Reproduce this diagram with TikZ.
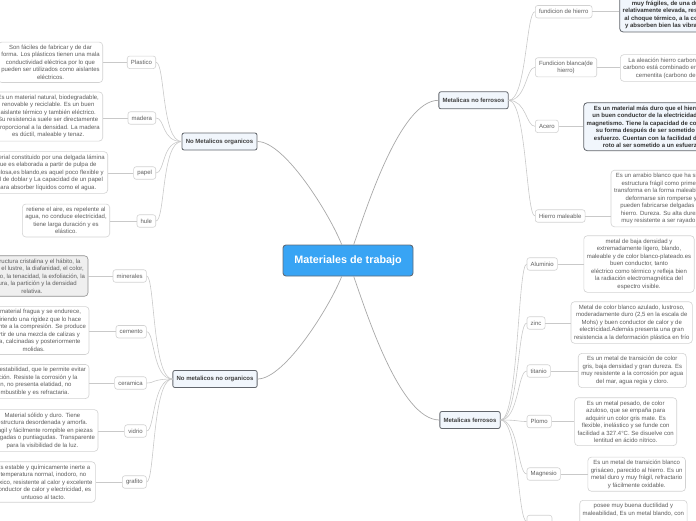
\documentclass[tikz,border=0pt]{standalone}
\usepackage{fontspec}
\setmainfont{Liberation Sans}
\usetikzlibrary{calc}
\definecolor{rootblue}{HTML}{38A4F4}
\definecolor{rootborder}{HTML}{5F6B78}
\definecolor{catfill}{HTML}{F1F6FC}
\definecolor{catborder}{HTML}{62666C}
\definecolor{nodeborder}{HTML}{D2D2D2}
\definecolor{txtgray}{HTML}{5E5E5E}
\definecolor{linegray}{HTML}{C9C9C9}
\definecolor{rootline}{HTML}{A8A8A8}
\definecolor{minfill}{HTML}{EFEFEF}
\definecolor{minborder}{HTML}{8E8E8E}
\tikzset{
 every node/.style={font=\fontsize{6}{7.5}\selectfont},
 rootnode/.style={draw=rootborder, line width=0.9pt, fill=rootblue, rounded corners=3pt, text=white, font=\fontsize{10.8}{13}\selectfont\bfseries, minimum width=130pt, minimum height=31pt},
 catnode/.style={draw=catborder, line width=0.8pt, fill=catfill, rounded corners=2pt, text=black!75, font=\fontsize{6}{7.5}\selectfont\bfseries, inner xsep=3.8pt, minimum height=17pt},
 subnode/.style={draw=nodeborder, line width=0.6pt, fill=white, rounded corners=2.5pt, text=txtgray, align=center, inner xsep=3.7pt, inner ysep=3pt, minimum height=12.5pt},
 leaf/.style={draw=nodeborder, line width=0.6pt, fill=white, rounded corners=3.5pt, text=txtgray, align=center, inner xsep=3pt, inner ysep=3pt},
 hileaf/.style={leaf, draw=catborder, line width=0.8pt, fill=catfill, text=black!80, font=\fontsize{6}{7.5}\selectfont\bfseries},
 minleaf/.style={leaf, draw=minborder, fill=minfill},
 rootconn/.style={draw=rootline, line width=0.7pt},
 conn/.style={draw=linegray, line width=0.6pt},
}
\begin{document}
\begin{tikzpicture}[x=1pt,y=-1pt]
\useasboundingbox (0,0) rectangle (696,520);

% root and categories
\node[rootnode] (root) at (348,260.5) {Materiales de trabajo};
\node[catnode] (nmo) at (219.5,141.5) {No Metalicos organicos};
\node[catnode] (nmno) at (215,379) {No metalicos no organicos};
\node[catnode] (mnf) at (473.5,100.3) {Metalicas no ferrosos};
\node[catnode] (mf) at (470,420) {Metalicas ferrosos};

% left children (organicos)
\node[subnode, anchor=east] (plastico) at (156,62.3) {Plastico};
\node[subnode, anchor=east] (madera) at (156,118) {madera};
\node[subnode, anchor=east] (papel) at (156,173) {papel};
\node[subnode, anchor=east] (hule) at (156,221) {hule};

\node[leaf, anchor=east] (plasticoleaf) at (103,62.3) {Son fáciles de fabricar y de dar\\forma. Los plásticos tienen una mala\\conductividad eléctrica por lo que\\pueden ser utilizados como aislantes\\eléctricos.};
\node[leaf, anchor=east] (maderaleaf) at (103,116.5) {Es un material natural, biodegradable,\\renovable y reciclable. Es un buen\\aislante térmico y también eléctrico.\\Su resistencia suele ser directamente\\proporcional a la densidad. La madera\\es dúctil, maleable y tenaz.};
\node[leaf, anchor=east] (papelleaf) at (108,172.5) {Material constituido por una delgada lámina\\que es elaborada a partir de pulpa de\\celulosa,es blando,es aquel poco flexible y\\fácil de doblar y La capacidad de un papel\\para absorber líquidos como el agua.};
\node[leaf, anchor=east] (huleleaf) at (110,220.5) {retiene el aire, es repelente al\\agua, no conduce electricidad,\\tiene larga duración y es\\elástico.};

% left children (no organicos)
\node[subnode, anchor=east] (minerales) at (146.7,276) {minerales};
\node[subnode, anchor=east] (cemento) at (146.7,331.7) {cemento};
\node[subnode, anchor=east] (ceramica) at (146.7,383) {ceramica};
\node[subnode, anchor=east] (vidrio) at (146.7,431) {vidrio};
\node[subnode, anchor=east] (grafito) at (146.7,482) {grafito};

\node[minleaf, anchor=east] (mineralesleaf) at (88.3,276) {La estructura cristalina y el hábito, la\\dureza, el lustre, la diafanidad, el color,\\el rayado, la tenacidad, la exfoliación, la\\fractura, la partición y la densidad\\relativa.};
\node[leaf, anchor=east] (cementoleaf) at (89.3,330.5) {Este material fragua y se endurece,\\adquiriendo una rigidez que lo hace\\resistente a la compresión. Se produce\\a partir de una mezcla de calizas y\\arcilla, calcinadas y posteriormente\\molidas.};
\node[leaf, anchor=east] (ceramicaleaf) at (89.3,381.5) {Tiene gran estabilidad, que le permite evitar\\la oxidación. Resiste la corrosión y la\\erosión, no presenta elatidad, no\\es combustible y es refractaria.};
\node[leaf, anchor=east] (vidrioleaf) at (98.3,430.5) {Material sólido y duro. Tiene\\estructura desordenada y amorfa.\\Frágil y fácilmente rompible en piezas\\alargadas o puntiagudas. Transparente\\para la visibilidad de la luz.};
\node[leaf, anchor=east] (grafitoleaf) at (95.7,482) {Es estable y químicamente inerte a\\temperatura normal, inodoro, no\\tóxico, resistente al calor y excelente\\conductor de calor y electricidad, es\\untuoso al tacto.};

% right children (no ferrosos)
\node[subnode, anchor=west] (fdh) at (535,11.7) {fundicion de hierro};
\node[subnode, anchor=west] (fb) at (535,67.3) {Fundicion blanca(de\\hierro)};
\node[subnode, anchor=west] (acero) at (535,126.3) {Acero};
\node[subnode, anchor=west] (hm) at (535,216) {Hierro maleable};

\node[hileaf, anchor=west] (fdhleaf) at (619.3,11.2) {Son aleaciones de hierro,\\muy frágiles, de una dureza\\relativamente elevada, resistentes\\al choque térmico, a la corrosión\\y absorben bien las vibraciones.};
\node[leaf, anchor=west] (fbleaf) at (620,68) {La aleación hierro carbono donde el\\carbono está combinado en la forma de\\cementita (carbono de hierro).};
\node[hileaf, anchor=west] (aceroleaf) at (583.3,126.7) {Es un material más duro que el hierro, es\\un buen conductor de la electricidad y del\\magnetismo. Tiene la capacidad de conservar\\su forma después de ser sometido a un\\esfuerzo. Cuentan con la facilidad de ser\\roto al ser sometido a un esfuerzo.};
\node[leaf, anchor=west] (hmleaf) at (610.7,198.5) {Es un arrabio blanco que ha sido recocido\\estructura frágil como primer paso, se\\transforma en la forma maleable. Capaz de\\deformarse sin romperse y por ello\\pueden fabricarse delgadas chapas de\\hierro. Dureza. Su alta dureza lo hace\\muy resistente a ser rayado por otros.};

% right children (ferrosos)
\node[subnode, anchor=west] (aluminio) at (526.7,264) {Aluminio};
\node[subnode, anchor=west] (zinc) at (526.7,323) {zinc};
\node[subnode, anchor=west] (titanio) at (526.7,371) {titanio};
\node[subnode, anchor=west] (plomo) at (526.7,421.5) {Plomo};
\node[subnode, anchor=west] (magnesio) at (526.7,474) {Magnesio};
\node[subnode, anchor=west, minimum width=25pt] (cobre) at (526.7,521.5) {};

\node[leaf] (aluminioleaf) at (639,264) {metal de baja densidad y\\extremadamente ligero, blando,\\maleable y de color blanco-plateado.es\\buen conductor, tanto\\eléctrico como térmico y refleja bien\\la radiación electromagnética del\\espectro visible.};
\node[leaf] (zincleaf) at (631.7,322.5) {Metal de color blanco azulado, lustroso,\\moderadamente duro (2,5 en la escala de\\Mohs) y buen conductor de calor y de\\electricidad.Además presenta una gran\\resistencia a la deformación plástica en frío};
\node[leaf] (titanioleaf) at (632.3,370.5) {Es un metal de transición de color\\gris, baja densidad y gran dureza. Es\\muy resistente a la corrosión por agua\\del mar, agua regia y cloro.};
\node[leaf] (plomoleaf) at (625.7,421.7) {Es un metal pesado, de color\\azuloso, que se empaña para\\adquirir un color gris mate. Es\\flexible, inelástico y se funde con\\facilidad a 327.4°C. Se disuelve con\\lentitud en ácido nítrico.};
\node[leaf] (magnesioleaf) at (636.7,474.2) {Es un metal de transición blanco\\grisáceo, parecido al hierro. Es un\\metal duro y muy frágil, refractario\\y fácilmente oxidable.};
\node[leaf, anchor=north, text depth=30pt] (cobreleaf) at (633.4,500) {posee muy buena ductilidad y\\maleabilidad, Es un metal blando, con};

% root connectors
\draw[rootconn] (root) .. controls (330,215) and (285,141.5) .. (nmo.east);
\draw[rootconn] (root) .. controls (330,306) and (285,379) .. (nmno.east);
\draw[rootconn] (root) .. controls (366,210) and (400,100.3) .. (mnf.west);
\draw[rootconn] (root) .. controls (366,311) and (400,420) .. (mf.west);

% category to children
\foreach \c in {plastico,madera,papel,hule}
  \draw[conn] (nmo.west) .. controls +(-20,0) and +(9,0) .. (\c.east);
\foreach \c in {minerales,cemento,ceramica,vidrio,grafito}
  \draw[conn] (nmno.west) .. controls +(-20,0) and +(8,0) .. (\c.east);
\foreach \c in {fdh,fb,acero,hm}
  \draw[conn] (mnf.east) .. controls +(18,0) and +(-9,0) .. (\c.west);
\foreach \c in {aluminio,zinc,titanio,plomo,magnesio,cobre}
  \draw[conn] (mf.east) .. controls +(18,0) and +(-9,0) .. (\c.west);

% children to leaves
\foreach \c in {plastico,madera,papel,hule,minerales,cemento,ceramica,vidrio,grafito}
  \draw[conn] (\c.west) -- (\c.west -| \c leaf.east);
\foreach \c in {fdh,fb,acero,hm,aluminio,zinc,titanio,plomo,magnesio}
  \draw[conn] (\c.east) -- (\c.east -| \c leaf.west);
\end{tikzpicture}
\end{document}
